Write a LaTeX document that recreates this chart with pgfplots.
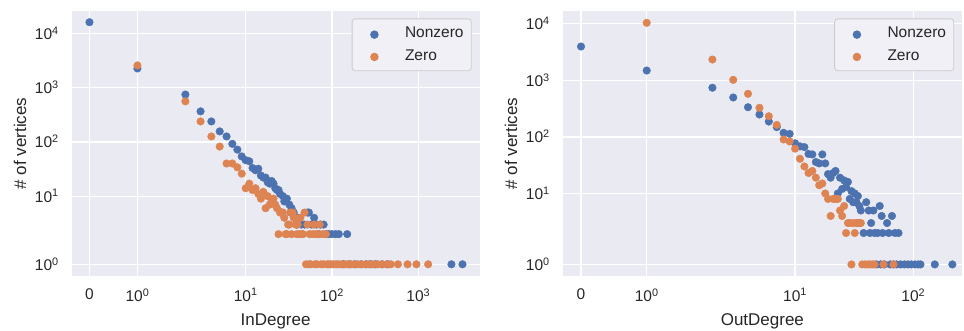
\documentclass[border=0pt]{standalone}
\usepackage{fontspec}
\setmainfont{Liberation Sans}
\usepackage{pgfplots}
\pgfplotsset{compat=1.18}

\definecolor{sbblue}{HTML}{4C72B0}
\definecolor{sborange}{HTML}{DD8452}
\definecolor{sbbg}{HTML}{EAEAF2}
\definecolor{sbtext}{HTML}{262626}

% symmetric-log scale (linear below 2, logarithmic above), in decade units
\pgfplotsset{
  symlog/.style={
    scale only axis,
    axis background/.style={fill=sbbg},
    axis line style={draw=none},
    major tick length=0pt,
    grid=major,
    major grid style={white, line width=1.3pt},
    x filter/.expression={min(x,2)*0.5555556+ln(max(x,2)/2)/2.3025851},
    y filter/.expression={min(y,2)*0.5555556+ln(max(y,2)/2)/2.3025851},
    ytick={0.5555556,1.8100806,2.8100806,3.8100806,4.8100806},
    yticklabels={10\textsuperscript{0},10\textsuperscript{1},10\textsuperscript{2},10\textsuperscript{3},10\textsuperscript{4}},
    ticklabel style={font=\fontsize{15.5}{18}\selectfont, text=sbtext},
    yticklabel style={anchor=base east, xshift=-9.5pt, yshift=-6pt},
    xticklabel style={yshift=-9pt},
    every axis y label/.style={at={(rel axis cs:0,0.5)}, rotate=90, anchor=center, yshift=51.7pt,
      font=\fontsize{17}{20}\selectfont, text=sbtext},
    every axis x label/.style={at={(rel axis cs:0.5,0)}, anchor=center, yshift=-45.5pt,
      font=\fontsize{17}{20}\selectfont, text=sbtext},
    ylabel={\# of vertices},
    legend cell align=left,
    legend style={at={(rel axis cs:1,1)}, anchor=north east, xshift=-7.8pt, yshift=-7.5pt,
      fill=sbbg!70!white, draw=black!20, rounded corners=3pt, line width=0.8pt,
      font=\fontsize{15.5}{18}\selectfont, text=sbtext,
      inner xsep=5.7pt, inner ysep=5.5pt, row sep=3.8pt,
      nodes={inner sep=2pt, text height=11.5pt, text depth=3pt},
      /tikz/every odd column/.append style={column sep=12pt}},
  },
  dotleg/.style={legend image code/.code={%
    \path[draw=none, fill=none] (0pt,0pt) -- (33.2pt,0pt);
    \path[##1] plot coordinates {(16.6pt,-1pt)};}},
  nz/.style={only marks, mark=*, mark size=3.8pt, color=sbblue, mark options={draw=none, fill=sbblue}, dotleg},
  zr/.style={only marks, mark=*, mark size=3.8pt, color=sborange, mark options={draw=none, fill=sborange}, dotleg},
}

\pgfplotstableread{
deg cnt
0 16000
1 2250
2 745
3 365
4 238
5 156
6 126
7 92
8 72
9 54
10 46
11 44
12 33
13 30
14 32
15 24
16 22
17 22
18 18
19 17
20 19
21 17
22 14
23 13
24 13
25 11
26 5
27 10
28 8
30 9
32 7
33 5
34 6
36 5
37 4
39 3
41 4
44 3
48 3
52 5
54 5
58 3
62 4
66 3
70 2
74 3
80 3
86 2
92 2
100 2
110 2
120 2
135 1
150 2
160 1
185 1
218 1
250 1
280 1
320 1
380 1
444 1
2420 1
3250 1
}\inNonzero

\pgfplotstableread{
deg cnt
1 2560
2 558
3 238
4 126
5 82
6 40
7 40
8 34
9 26
10 14
11 17
12 13
13 14
14 11
15 9
16 12
17 6
18 10
19 7
20 8
21 9
22 7
23 6
24 2
25 5
26 5
27 5
28 4
29 2
30 2
31 3
32 3
33 5
34 2
35 5
36 4
37 4
38 3
39 2
40 3
42 2
43 4
45 2
46 2
48 5
50 1
52 3
54 1
55 2
57 1
60 2
62 3
64 1
65 2
67 1
70 2
72 3
75 1
78 2
80 1
85 2
88 1
92 1
98 1
105 1
112 1
120 1
130 1
140 1
150 1
165 1
180 1
200 1
220 1
245 1
270 1
300 1
340 1
380 1
430 1
480 1
580 1
750 1
950 1
1300 1
}\inZero

\pgfplotstableread{
deg cnt
0 3960
1 1490
2 740
3 498
4 335
5 249
6 187
7 149
8 118
9 113
10 77
11 68
12 66
13 50
14 49
15 36
16 34
17 49
18 34
19 22
20 19
21 23
22 25
23 10
24 19
25 12
26 17
27 13
28 16
29 8
30 11
31 7
32 10
33 7
34 9
35 6
36 5
38 2
40 7
42 5
43 2
44 3
46 5
47 2
49 1
50 2
52 6
53 1
54 4
55 2
57 1
60 3
62 2
64 1
66 4
68 1
70 2
72 1
75 2
78 1
84 1
90 1
96 1
103 1
110 1
115 1
152 1
214 1
}\outNonzero

\pgfplotstableread{
deg cnt
1 10400
2 2334
3 1021
4 578
5 327
6 232
7 163
8 90
9 83
10 62
11 41
12 30
13 23
14 25
15 19
16 14
17 15
18 10
19 8
20 4
21 8
22 8
23 8
24 5
25 4
26 6
27 2
28 3
29 3
30 1
31 3
32 2
33 3
34 3
35 3
36 3
37 1
39 1
41 1
43 1
45 1
47 1
56 1
68 1
}\outZero

\begin{document}
\begin{tikzpicture}
\path[use as bounding box] (0pt,0pt) rectangle (964pt,331pt);

\begin{axis}[symlog,
  at={(71.7pt,55pt)}, anchor=south west,
  width=407.8pt, height=265pt,
  xmin=-0.206, xmax=4.519, ymin=0.340, ymax=5.221,
  xtick={0,0.5555556,1.8100806,2.8100806,3.8100806},
  xticklabels={0,10\textsuperscript{0},10\textsuperscript{1},10\textsuperscript{2},10\textsuperscript{3}},
  xlabel={InDegree}]
\addplot[nz] table[x=deg, y=cnt] {\inNonzero};
\addlegendentry{Nonzero}
\addplot[zr] table[x=deg, y=cnt] {\inZero};
\addlegendentry{Zero}
\end{axis}

\begin{axis}[symlog,
  at={(562.7pt,55pt)}, anchor=south west,
  width=399.3pt, height=265pt,
  xmin=-0.155, xmax=3.222, ymin=0.351, ymax=5.036,
  xtick={0,0.5555556,1.8100806,2.8100806},
  xticklabels={0,10\textsuperscript{0},10\textsuperscript{1},10\textsuperscript{2}},
  xlabel={OutDegree}]
\addplot[nz] table[x=deg, y=cnt] {\outNonzero};
\addlegendentry{Nonzero}
\addplot[zr] table[x=deg, y=cnt] {\outZero};
\addlegendentry{Zero}
\end{axis}
\end{tikzpicture}
\end{document}
